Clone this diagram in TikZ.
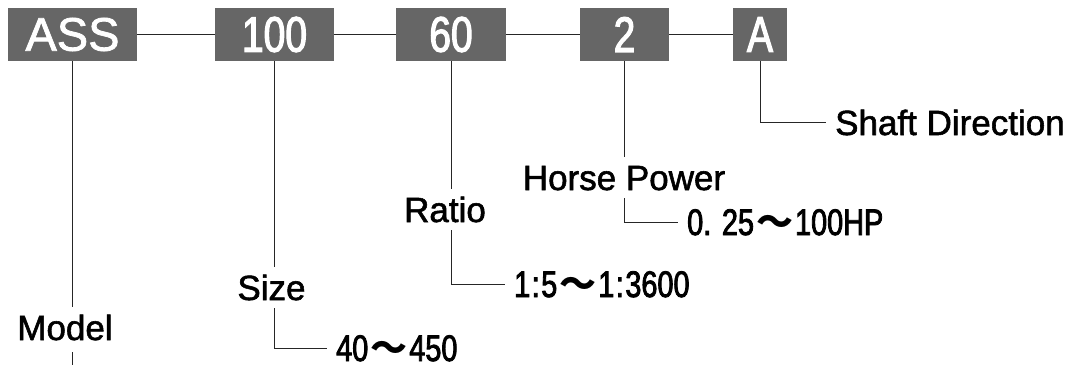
\documentclass[tikz,border=0pt]{standalone}
\usepackage{fontspec}
\setmainfont{Liberation Sans}[FakeBold=1.6]
\newfontfamily\narrowfont{Liberation Sans}[FakeStretch=0.78, FakeBold=2.2]
\newfontfamily\wavefont{Noto Sans CJK JP}
\newcommand\wv{\hspace{2pt}{\wavefont\bfseries 〜}\hspace{2pt}}
\newcommand\cl{\hspace{1.5pt}:\hspace{1.5pt}}
\definecolor{boxgray}{RGB}{102,102,102}
\tikzset{
  codebox/.style={fill=boxgray, text=white, inner sep=0pt, minimum height=53pt},
  widetype/.style={font=\fontsize{47}{50}\selectfont},
  narrowtype/.style={font=\narrowfont\fontsize{50}{50}\selectfont},
  link/.style={line width=1pt, draw=black!85},
  fieldlabel/.style={font=\fontsize{35}{40}\selectfont, text height=25pt, text depth=0pt,
    inner xsep=0pt, inner ysep=8pt, anchor=base},
  valrange/.style={font=\narrowfont\fontsize{37}{40}\selectfont, text height=26pt, text depth=0pt,
    inner xsep=9pt, inner ysep=0pt, anchor=west},
}
\begin{document}
\begin{tikzpicture}[x=1pt, y=-1pt]
\useasboundingbox (0,0) rectangle (1066,365);

% code boxes
\node[codebox, widetype,   minimum width=129pt] (bmodel) at (72.5,34.5) {ASS};
\node[codebox, narrowtype, minimum width=119pt] (bsize)  at (274.5,34.5) {100};
\node[codebox, narrowtype, minimum width=110pt] (bratio) at (451,34.5) {60};
\node[codebox, narrowtype, minimum width=89pt]  (bpower) at (624.5,34.5) {2};
\node[codebox, narrowtype, minimum width=54pt]  (bshaft) at (760,34.5) {A};

\draw[link] (bmodel.east) -- (bsize.west);
\draw[link] (bsize.east) -- (bratio.west);
\draw[link] (bratio.east) -- (bpower.west);
\draw[link] (bpower.east) -- (bshaft.west);

% field captions
\node[fieldlabel] (lmodel) at (65,340) {Model};
\node[fieldlabel] (lsize)  at (271.5,300) {Size};
\node[fieldlabel] (lratio) at (445,222) {Ratio};
\node[fieldlabel] (lpower) at (624,190) {Horse Power};
\node[fieldlabel, anchor=base west, inner xsep=9pt] (lshaft) at (826,135) {Shaft Direction};

% value ranges
\node[valrange] (rsize)  at (327,348) {40\wv450};
\node[valrange] (rratio) at (505,284) {1\cl5\wv1\cl3600};
\node[valrange] (rpower) at (678,222) {0. 25\wv100HP};

\coordinate (bottom) at (0,365);

% leaders
\draw[link] (bmodel.south) -- (bmodel.south |- lmodel.north);
\draw[link] ([yshift=-4pt]bmodel.south |- lmodel.south) -- (bmodel.south |- bottom);

\draw[link] (bsize.south) -- (bsize.south |- lsize.north);
\draw[link] (bsize.south |- lsize.south) |- (rsize.west);

\draw[link] (bratio.south) -- (bratio.south |- lratio.north);
\draw[link] (bratio.south |- lratio.south) |- (rratio.west);

\draw[link] (bpower.south) -- (bpower.south |- lpower.north);
\draw[link] (bpower.south |- lpower.south) |- (rpower.west);

\draw[link] (bshaft.south) |- (lshaft.west);
\end{tikzpicture}
\end{document}
